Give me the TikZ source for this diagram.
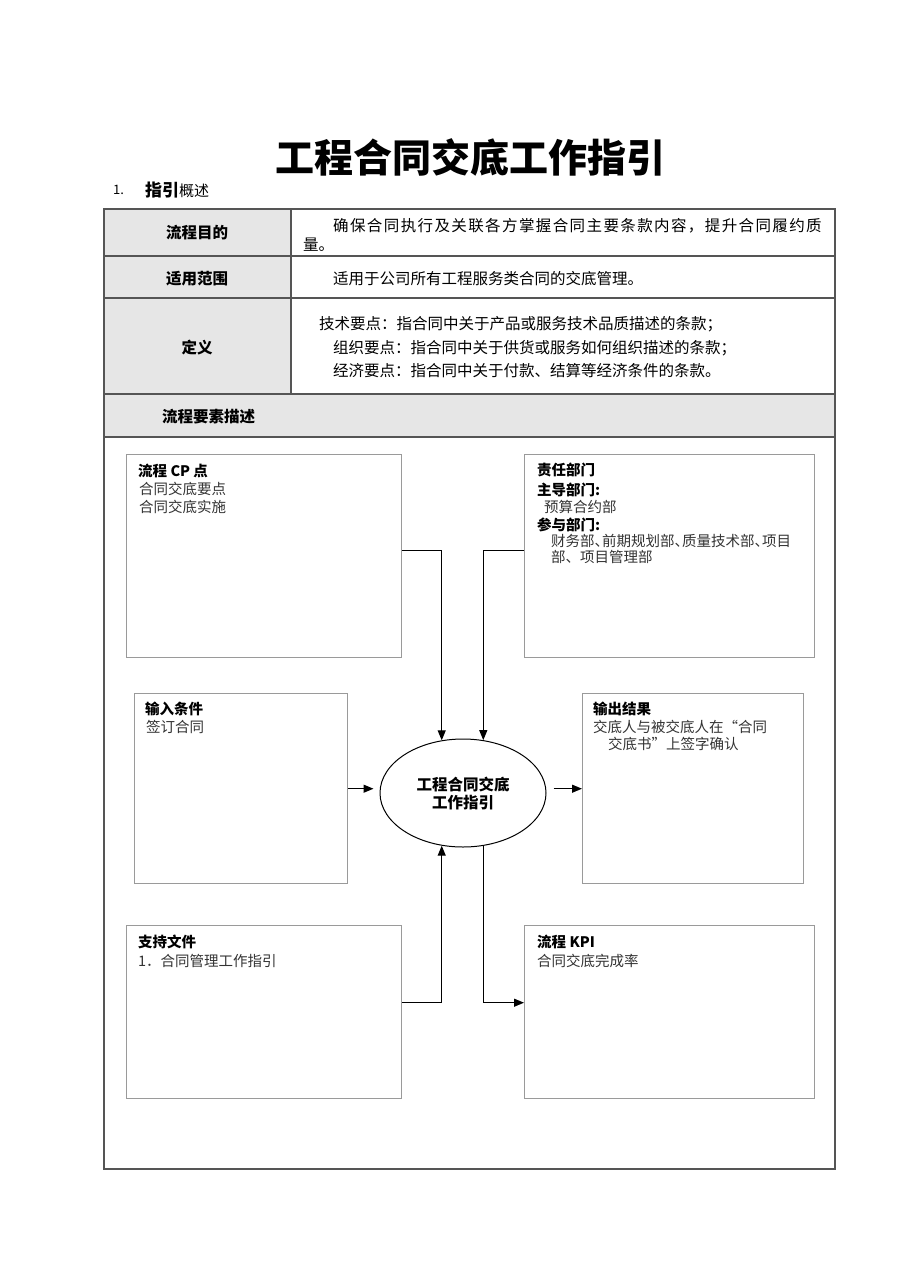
\documentclass[tikz,border=0pt]{standalone}
\usepackage{fontspec}
\setmainfont{Noto Sans CJK SC}
\usetikzlibrary{shapes.geometric,arrows.meta,positioning}

\definecolor{cellgray}{HTML}{E6E6E6}
\definecolor{rulegray}{HTML}{555555}
\definecolor{panelgray}{HTML}{9A9A9A}

% narrow enumeration comma
\newcommand\dunhao{\makebox[7.5pt][l]{、}}

\tikzset{
  celltext/.style={font=\fontsize{15.5}{19}\selectfont, anchor=west, inner sep=0pt},
  celllabel/.style={font=\fontsize{15.5}{19}\selectfont\bfseries, inner sep=0pt},
  panel/.style={draw=panelgray, line width=1.4pt, anchor=north west, inner sep=0pt},
  paneltitle/.style={font=\fontsize{14.5}{18}\selectfont\bfseries, anchor=west, inner sep=0pt},
  paneltext/.style={font=\fontsize{14.5}{18}\selectfont, text=black!80, anchor=west, inner sep=0pt},
  core/.style={ellipse, draw, line width=1pt, inner sep=0pt, align=center,
    font=\fontsize{15.5}{18}\selectfont\bfseries},
  flow/.style={line width=1.2pt, -{Triangle[length=10pt,width=8pt]}},
}

\begin{document}
\begin{tikzpicture}[x=1pt,y=-1pt]
  \useasboundingbox (0,0) rectangle (909,1286);

  % heading
  \node[font=\fontsize{39}{40}\selectfont\bfseries, inner sep=0pt] (title) at (470,157) {工程合同交底工作指引};
  \node[font=\fontsize{13}{13}\selectfont, anchor=west, inner sep=0pt] (num) at (113,190) {1.};
  \node[anchor=west, inner sep=0pt] (sub) at (145,190)
    {{\fontsize{17}{17}\selectfont\bfseries 指引}{\fontsize{15}{15}\selectfont 概述}};

  % table
  \fill[cellgray] (104,209) rectangle (291,394);
  \fill[cellgray] (104,394) rectangle (835,437);
  \draw[rulegray, line width=1.2pt] (104,209) rectangle (835,1169);
  \draw[rulegray, line width=1.2pt] (104,256) -- (835,256)
    (104,298) -- (835,298)
    (104,394) -- (835,394)
    (104,437) -- (835,437)
    (291,209) -- (291,394);

  \node[celllabel] (purpose) at (197,233) {流程目的};
  \node[celllabel] (scope) at (197,279) {适用范围};
  \node[celllabel] (define) at (197,348) {定义};
  \node[celllabel, anchor=west] (elements) at (162,417) {流程要素描述};

  \node[celltext, font=\fontsize{15.5}{19}\selectfont\addfontfeature{LetterSpace=9}] (purpose1) at (333,226)
    {确保合同执行及关联各方掌握合同主要条款内容，提升合同履约质};
  \node[celltext] (purpose2) at (303,245) {量。};
  \node[celltext] (scope1) at (333,279) {适用于公司所有工程服务类合同的交底管理。};
  \node[celltext] (define1) at (319,324) {技术要点：指合同中关于产品或服务技术品质描述的条款；};
  \node[celltext] (define2) at (333,348) {组织要点：指合同中关于供货或服务如何组织描述的条款；};
  \node[celltext] (define3) at (333,371) {经济要点：指合同中关于付款、结算等经济条件的条款。};

  % panels
  \node[panel, minimum width=275pt, minimum height=203pt] (cp) at (126,454) {};
  \node[panel, minimum width=290pt, minimum height=203pt] (dept) at (524,454) {};
  \node[panel, minimum width=213pt, minimum height=190pt] (input) at (134,693) {};
  \node[panel, minimum width=221pt, minimum height=190pt] (output) at (582,693) {};
  \node[panel, minimum width=275pt, minimum height=173pt] (docs) at (126,925) {};
  \node[panel, minimum width=290pt, minimum height=173pt] (kpi) at (524,925) {};

  \node[core, minimum width=166pt, minimum height=108pt] (guide) at (463,793) {工程合同交底\\工作指引};

  % panel texts
  \node[paneltitle] (cpT) at (138,471) {流程 CP 点};
  \node[paneltext] (cp1) at (139,489) {合同交底要点};
  \node[paneltext] (cp2) at (139,507) {合同交底实施};

  \node[paneltitle] (deptT) at (537,470) {责任部门};
  \node[paneltitle] (deptA) at (537,490) {主导部门:};
  \node[paneltext] (deptA1) at (544,507) {预算合约部};
  \node[paneltitle] (deptB) at (537,525) {参与部门:};
  \node[paneltext] (deptB1) at (551,541) {财务部\dunhao 前期规划部\dunhao 质量技术部\dunhao 项目};
  \node[paneltext] (deptB2) at (551,557) {部、项目管理部};

  \node[paneltitle] (inputT) at (145,709) {输入条件};
  \node[paneltext] (input1) at (146,727) {签订合同};

  \node[paneltitle] (outputT) at (593,709) {输出结果};
  \node[paneltext] (output1) at (593,727) {交底人与被交底人在“合同};
  \node[paneltext] (output2) at (608,744) {交底书”上签字确认};

  \node[paneltitle] (docsT) at (138,942) {支持文件};
  \node[paneltext] (docs1) at (138,961) {1．合同管理工作指引};

  \node[paneltitle] (kpiT) at (537,942) {流程 KPI};
  \node[paneltext] (kpi1) at (537,961) {合同交底完成率};

  % connectors
  \draw[flow] ([yshift=5.5pt]cp.east) -| (guide.112);
  \draw[flow] ([yshift=5.5pt]dept.west) -| (guide.69);
  \draw[flow, shorten >=6pt] (input.east) -- (input.east -| guide.west);
  \draw[flow, shorten <=7pt] (output.west -| guide.east) -- (output.west);
  \draw[flow] ([yshift=9.5pt]docs.east) -| (guide.248);
  \draw[flow] (guide.291) |- ([yshift=9.5pt]kpi.west);
\end{tikzpicture}
\end{document}
